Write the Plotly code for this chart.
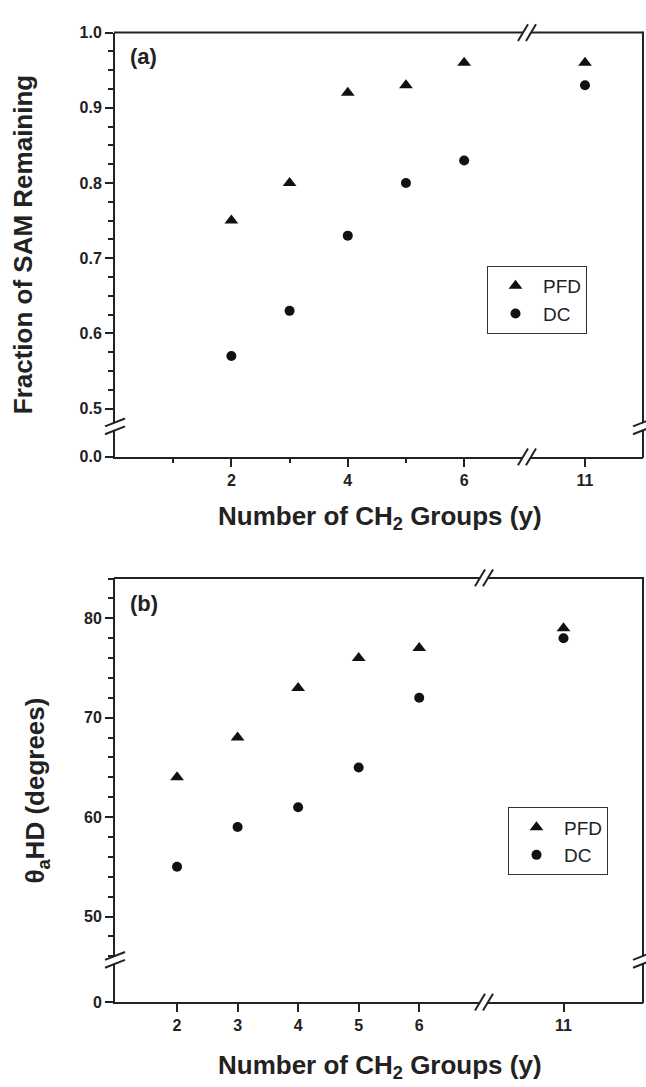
import plotly.graph_objects as go

# ---------------- data ----------------
ch2_groups = [2, 3, 4, 5, 6, 11]
frac_pfd = [0.75, 0.80, 0.92, 0.93, 0.96, 0.96]
frac_dc = [0.57, 0.63, 0.73, 0.80, 0.83, 0.93]
theta_pfd = [64, 68, 73, 76, 77, 79]
theta_dc = [55, 59, 61, 65, 72, 78]
series_names = ["PFD", "DC"]

W, H = 646, 1087
FONT = "Liberation Sans, Arial, Helvetica, sans-serif"


def px(x):
    return x / W


def py(y):
    return 1 - y / H


def split(xs, ys, cut=8):
    left = [(a, b) for a, b in zip(xs, ys) if a < cut]
    right = [(a, b) for a, b in zip(xs, ys) if a >= cut]
    return ([a for a, _ in left], [b for _, b in left]), ([a for a, _ in right], [b for _, b in right])


fig = go.Figure()

marker_styles = {
    "PFD": dict(symbol="triangle-up", size=12, color="#111111"),
    "DC": dict(symbol="circle", size=10, color="#111111"),
}

panels = [
    dict(pfd=frac_pfd, dc=frac_dc, xl="x", xr="x2", yu="y", yl="y2", legend="legend"),
    dict(pfd=theta_pfd, dc=theta_dc, xl="x3", xr="x4", yu="y3", yl="y4", legend="legend2"),
]

for p in panels:
    for name, vals in zip(series_names, [p["pfd"], p["dc"]]):
        (lx, ly), (rx, ry) = split(ch2_groups, vals)
        fig.add_trace(go.Scatter(x=lx, y=ly, mode="markers", name=name,
                                 marker=marker_styles[name], xaxis=p["xl"], yaxis=p["yu"],
                                 legend=p["legend"], legendgroup=name + p["legend"],
                                 showlegend=True, hoverinfo="skip"))
        fig.add_trace(go.Scatter(x=rx, y=ry, mode="markers", name=name,
                                 marker=marker_styles[name], xaxis=p["xr"], yaxis=p["yu"],
                                 legend=p["legend"], legendgroup=name + p["legend"],
                                 showlegend=False, hoverinfo="skip"))
    # empty traces so the lower (broken) y segments exist as subplots
    for xa in (p["xl"], p["xr"]):
        fig.add_trace(go.Scatter(x=[], y=[], mode="markers", xaxis=xa, yaxis=p["yl"],
                                 showlegend=False, hoverinfo="skip"))

tickfont = dict(family=FONT, size=16, color="#222222", weight="bold")
common = dict(showgrid=False, zeroline=False, showline=True, linecolor="#222222",
              linewidth=2, ticks="outside", tickcolor="#222222", tickwidth=2, ticklen=8,
              tickfont=tickfont, fixedrange=True)

# geometry in pixels
L, R = 115, 643
# panel a
a_top, a_brk, a_bot, a_xbrk = 25, 425, 456, 527
# panel b
b_top, b_brk, b_bot, b_xbrk = 579, 967, 1010, 484

legend_common = dict(xanchor="left", yanchor="top", bordercolor="#333333", borderwidth=1,
                     bgcolor="white", font=dict(family=FONT, size=19, color="#222222"),
                     itemwidth=45, tracegroupgap=0)

fig.update_layout(
    width=W, height=H, margin=dict(l=0, r=0, t=0, b=0),
    paper_bgcolor="white", plot_bgcolor="white",
    font=dict(family=FONT, color="#222222"),
    # ---- panel (a) ----
    xaxis=dict(domain=[px(L), px(a_xbrk)], anchor="y2", range=[0, 7.08],
               tickvals=[2, 4, 6], ticktext=["2", "4", "6"],
               minor=dict(tickvals=[1, 3, 5], ticks="outside", ticklen=4, tickwidth=2,
                          tickcolor="#222222"), **common),
    xaxis2=dict(domain=[px(a_xbrk), px(R)], anchor="y2", range=[10, 12],
                tickvals=[11], ticktext=["11"], **common),
    yaxis=dict(domain=[py(a_brk), py(a_top)], anchor="x", range=[0.4764, 1.0],
               tickvals=[0.5, 0.6, 0.7, 0.8, 0.9, 1.0],
               ticktext=["0.5", "0.6", "0.7", "0.8", "0.9", "1.0"],
               minor=dict(dtick=0.025, tick0=0.5, ticks="outside", ticklen=5, tickwidth=2,
                          tickcolor="#222222"), **common),
    yaxis2=dict(domain=[py(a_bot), py(a_brk)], anchor="x", range=[0, 1],
                tickvals=[0], ticktext=["0.0"], **common),
    # ---- panel (b) ----
    xaxis3=dict(domain=[px(L), px(b_xbrk)], anchor="y4", range=[0.975, 7.07],
                tickvals=[2, 3, 4, 5, 6], ticktext=["2", "3", "4", "5", "6"], **common),
    xaxis4=dict(domain=[px(b_xbrk), px(R)], anchor="y4", range=[9.68, 12.32],
                tickvals=[11], ticktext=["11"], **common),
    yaxis3=dict(domain=[py(b_brk), py(b_top)], anchor="x3", range=[45.64, 84.06],
                tickvals=[50, 60, 70, 80], ticktext=["50", "60", "70", "80"],
                minor=dict(dtick=2, tick0=50, ticks="outside", ticklen=5, tickwidth=2,
                           tickcolor="#222222"), **common),
    yaxis4=dict(domain=[py(b_bot), py(b_brk)], anchor="x3", range=[0, 1],
                tickvals=[0], ticktext=["0"], **common),
    legend=dict(x=px(487), y=py(262), **legend_common),
    legend2=dict(x=px(508), y=py(812), **legend_common),
    showlegend=True,
)

shapes = []
line = dict(color="#222222", width=2)


def seg(x0, y0, x1, y1, **kw):
    d = dict(type="line", xref="paper", yref="paper", x0=px(x0), y0=py(y0),
             x1=px(x1), y1=py(y1), line=kw.get("line", line), layer="above")
    shapes.append(d)


def xbreak(xc, yc):
    seg(xc - 5, yc + 8, xc + 5, yc - 8, line=dict(color="white", width=6))
    seg(xc - 9, yc + 8.5, xc + 1, yc - 8.5)
    seg(xc - 1, yc + 8.5, xc + 9, yc - 8.5)


def ybreak(xc, yc):
    seg(xc - 10, yc + 4, xc + 10, yc - 4, line=dict(color="white", width=6))
    seg(xc - 10, yc + 8, xc + 10, yc)
    seg(xc - 10, yc, xc + 10, yc - 8)


for top, brk, bot, xbrk in [(a_top, a_brk, a_bot, a_xbrk), (b_top, b_brk, b_bot, b_xbrk)]:
    seg(L - 1, top, R, top)        # top frame
    seg(R, top - 1, R, bot + 1)    # right frame
    xbreak(xbrk, top)
    xbreak(xbrk, bot)
    ybreak(L, brk)
    ybreak(R, brk)

fig.update_layout(shapes=shapes)

title_font = dict(family=FONT, size=26, color="#222222", weight="bold")
annotations = [
    dict(text="Fraction of SAM Remaining", x=px(23), y=py(241), textangle=-90,
         font=title_font),
    dict(text="Number of CH<sub>2</sub> Groups (y)", x=px(380), y=py(518), font=title_font),
    dict(text="θ<sub>a</sub>HD (degrees)", x=px(37), y=py(795), textangle=-90,
         font=title_font),
    dict(text="Number of CH<sub>2</sub> Groups (y)", x=px(380), y=py(1075), font=title_font),
    dict(text="(a)", x=px(128), y=py(49), xanchor="left",
         font=dict(family=FONT, size=22, color="#222222", weight="bold")),
    dict(text="(b)", x=px(128), y=py(605), xanchor="left",
         font=dict(family=FONT, size=22, color="#222222", weight="bold")),
]
for a in annotations:
    a.setdefault("xanchor", "center")
    a.update(xref="paper", yref="paper", showarrow=False, yanchor="middle")
fig.update_layout(annotations=annotations)

fig.write_html("out.html")
